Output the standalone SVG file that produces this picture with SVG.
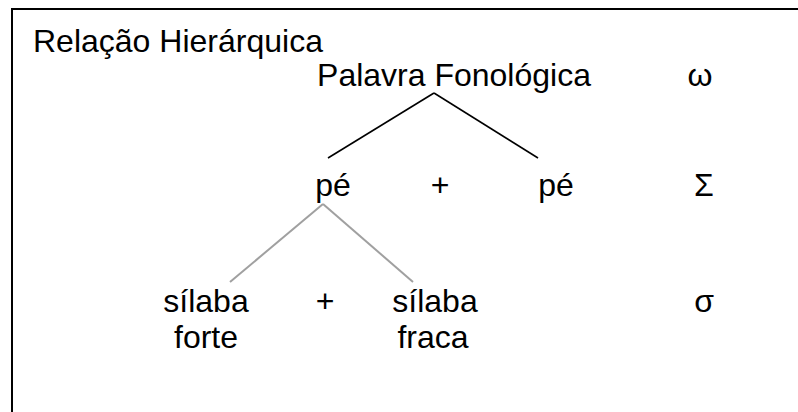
<svg xmlns="http://www.w3.org/2000/svg" width="798" height="412" viewBox="0 0 798 412">
<style>
text{font-family:"Liberation Sans",Arial,sans-serif;font-size:32px;fill:#000}
.m{text-anchor:middle}
.k{stroke:#000;stroke-width:1.6;fill:none}
.g{stroke:#a0a0a0;stroke-width:2;fill:none}
</style>
<rect x="0" y="0" width="798" height="412" fill="#fff"/>
<rect x="12" y="9" width="800" height="420" fill="none" stroke="#000" stroke-width="2"/>
<text x="33" y="52">Relação Hierárquica</text>
<g id="connectors">
<line class="k" x1="434" y1="93" x2="328" y2="158"/>
<line class="k" x1="434" y1="93" x2="538" y2="158"/>
<line class="g" x1="323" y1="204" x2="230" y2="282"/>
<line class="g" x1="323" y1="204" x2="413" y2="282"/>
</g>
<g id="palavra"><text class="m" x="454" y="86">Palavra Fonológica</text></g>
<g id="omega"><text class="m" x="700" y="86">ω</text></g>
<g id="pe1"><text class="m" x="333" y="196">pé</text></g>
<g id="plus1"><text class="m" x="440" y="196">+</text></g>
<g id="pe2"><text class="m" x="556" y="196">pé</text></g>
<g id="sigma-up"><text class="m" x="704" y="196">Σ</text></g>
<g id="silaba-forte"><text class="m" x="206" y="312">sílaba</text><text class="m" x="206" y="348">forte</text></g>
<g id="plus2"><text class="m" x="325" y="312">+</text></g>
<g id="silaba-fraca"><text class="m" x="435" y="312">sílaba</text><text class="m" x="433" y="348">fraca</text></g>
<g id="sigma-low"><text class="m" x="704" y="312">σ</text></g>
</svg>
